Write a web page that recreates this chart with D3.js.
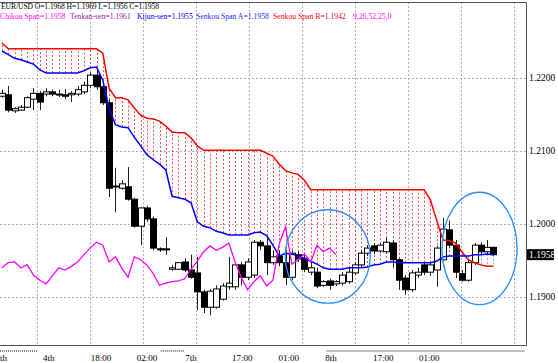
<!DOCTYPE html>
<html>
<head>
<meta charset="utf-8">
<script src="https://cdn.jsdelivr.net/npm/d3@7"></script>
<style>
  body { margin: 0; background: #fff; }
  svg { display: block; }
  text { font-family: "Liberation Serif", "DejaVu Serif", serif; }
</style>
</head>
<body>
<div id="chart"></div>
<script>
// H1 bars, index 0 = leftmost bar on screen
let opens = [1.2175,1.2177,1.2155,1.2156,1.2160,1.2171,1.2179,1.2178,1.2181,1.2178,
  1.2177,1.2177,1.2178,1.2181,1.2190,1.2204,1.2188,1.2166,1.2051,1.2049,
  1.2051,1.2034,1.1997,1.2022,1.2007,1.1966,1.1966,1.1938,1.1938,1.1948,
  1.1937,1.1933,1.1907,1.1886,1.1886,1.1897,1.1914,1.1914,1.1944,1.1927,
  1.1930,1.1975,1.1970,1.1947,1.1956,1.1947,1.1927,1.1958,1.1953,1.1934,
  1.1934,1.1916,1.1922,1.1918,1.1919,1.1921,1.1933,1.1944,1.1960,1.1970,
  1.1963,1.1962,1.1974,1.1951,1.1926,1.1910,1.1930,1.1944,1.1934,1.1937,
  1.1951,1.1992,1.1971,1.1932,1.1923,1.1947,1.1971,1.1962,1.1968]
let highs = [1.2184,1.2189,1.2160,1.2163,1.2175,1.2186,1.2182,1.2186,1.2184,1.2184,
  1.2185,1.2182,1.2189,1.2195,1.2208,1.2214,1.2190,1.2170,1.2077,1.2060,
  1.2078,1.2036,1.2023,1.2025,1.2010,1.1968,1.1982,1.1944,1.1948,1.1953,
  1.1958,1.1955,1.1910,1.1911,1.1916,1.1919,1.1955,1.1948,1.1948,1.1953,
  1.1978,1.1978,1.1982,1.1964,1.1964,1.1964,1.1964,1.1963,1.1958,1.1948,
  1.1940,1.1923,1.1925,1.1923,1.1934,1.1940,1.1948,1.1964,1.1971,1.1974,
  1.1974,1.1981,1.1978,1.1953,1.1930,1.1937,1.1940,1.1948,1.1948,1.1970,
  1.2008,1.2005,1.1978,1.1937,1.1951,1.1974,1.1975,1.1978,1.1969]
let lows = [1.2173,1.2153,1.2152,1.2155,1.2159,1.2156,1.2156,1.2175,1.2175,1.2174,
  1.2171,1.2167,1.2175,1.2178,1.2186,1.2184,1.2163,1.2037,1.2016,1.2047,
  1.2032,1.1995,1.1971,1.2003,1.1964,1.1962,1.1958,1.1936,1.1937,1.1934,
  1.1925,1.1882,1.1878,1.1875,1.1884,1.1895,1.1910,1.1910,1.1916,1.1923,
  1.1926,1.1964,1.1930,1.1944,1.1942,1.1916,1.1923,1.1948,1.1934,1.1930,
  1.1912,1.1914,1.1910,1.1915,1.1916,1.1918,1.1930,1.1941,1.1956,1.1959,
  1.1960,1.1959,1.1940,1.1910,1.1903,1.1907,1.1926,1.1930,1.1929,1.1914,
  1.1948,1.1967,1.1926,1.1921,1.1921,1.1944,1.1959,1.1959,1.1956]
let closes = [1.2179,1.2156,1.2158,1.2160,1.2173,1.2179,1.2167,1.2181,1.2178,1.2177,
  1.2175,1.2179,1.2184,1.2190,1.2204,1.2188,1.2166,1.2049,1.2052,1.2055,
  1.2034,1.1997,1.2022,1.2007,1.1967,1.1965,1.1966,1.1940,1.1947,1.1937,
  1.1927,1.1907,1.1886,1.1908,1.1911,1.1915,1.1919,1.1944,1.1927,1.1948,
  1.1975,1.1970,1.1947,1.1955,1.1947,1.1927,1.1960,1.1952,1.1938,1.1940,
  1.1915,1.1921,1.1916,1.1921,1.1930,1.1934,1.1944,1.1960,1.1967,1.1963,
  1.1971,1.1975,1.1951,1.1923,1.1910,1.1933,1.1934,1.1934,1.1944,1.1967,
  1.1993,1.1971,1.1934,1.1923,1.1947,1.1971,1.1962,1.1968,1.1958]

let senkouA = [1.2237,1.2232,1.2227,1.2225,1.2222,1.2219,1.2211,1.2207,1.2207,1.2207,
  1.2207,1.2207,1.2207,1.2210,1.2214,1.2215,1.2197,1.2159,1.2136,1.2133,
  1.2132,1.2119,1.2107,1.2095,1.2088,1.2082,1.2074,1.2038,1.2036,1.2034,
  1.2029,1.2003,1.1997,1.1995,1.1990,1.1988,1.1985,1.1985,1.1985,1.1985,
  1.1988,1.1989,1.1984,1.1971,1.1956,1.1960,1.1959,1.1956,1.1953,1.1949,
  1.1945,1.1940,1.1938,1.1938,1.1938,1.1940,1.1940,1.1940,1.1941,1.1944,
  1.1945,1.1948,1.1948,1.1947,1.1947,1.1947,1.1947,1.1947,1.1947,1.1949,
  1.1955,1.1956,1.1956,1.1956,1.1956,1.1958,1.1958,1.1959,1.1958]
let senkouB = [1.2248,1.2240,1.2240,1.2240,1.2240,1.2240,1.2240,1.2240,1.2240,1.2240,
  1.2240,1.2240,1.2240,1.2240,1.2240,1.2240,1.2234,1.2186,1.2173,1.2173,
  1.2170,1.2159,1.2149,1.2145,1.2144,1.2141,1.2134,1.2126,1.2125,1.2125,
  1.2118,1.2107,1.2101,1.2101,1.2101,1.2101,1.2101,1.2101,1.2101,1.2101,
  1.2101,1.2101,1.2097,1.2093,1.2082,1.2073,1.2070,1.2068,1.2060,1.2047,
  1.2047,1.2047,1.2047,1.2047,1.2047,1.2047,1.2047,1.2047,1.2047,1.2047,
  1.2047,1.2047,1.2047,1.2047,1.2047,1.2047,1.2047,1.2047,1.2033,1.2005,
  1.1978,1.1977,1.1974,1.1962,1.1951,1.1947,1.1944,1.1942,1.1942]
// chikou span, drawn from bar 0 to bar 53
let chikou = [1.1940,1.1947,1.1948,1.1940,1.1944,1.1930,1.1923,1.1918,1.1929,1.1940,
  1.1937,1.1942,1.1948,1.1958,1.1967,1.1975,1.1971,1.1948,1.1955,1.1940,
  1.1927,1.1955,1.1951,1.1944,1.1932,1.1916,1.1919,1.1921,1.1922,1.1925,
  1.1938,1.1949,1.1962,1.1970,1.1964,1.1968,1.1974,1.1948,1.1926,1.1910,
  1.1921,1.1929,1.1915,1.1923,1.1973,1.1996,1.1945,1.1951,1.1959,1.1948,
  1.1971,1.1962,1.1967,1.1958]

let priceTicks = [1.22, 1.21, 1.20, 1.19]
let timeLabels = ["th", "4th", "18:00", "02:00", "7th", "17:00", "01:00", "8th", "17:00", "01:00"]
let timeLabelBars = [-0.6, 6.5, 14.1, 21.4, 29.1, 36.5, 43.9, 51.3, 58.9, 66.2]
// hand drawn ellipses: [centre bar, centre price, half width in bars, half height in price]
let ellipses = [[51.7, 1.19555, 6.75, 0.0064], [75.8, 1.19665, 5.95, 0.0077]]

let headerLine1 = "EUR/USD O=1.1968 H=1.1969 L=1.1956 C=1.1958"
let headerLine2 = [
  ["Chikou Span=1.1958", "#ff00ff", 0],
  ["Tenkan-sen=1.1961", "#a020a0", 70],
  ["Kijun-sen=1.1955", "#0000ff", 137],
  ["Senkou Span A=1.1958", "#2030ff", 196],
  ["Senkou Span B=1.1942", "#ff0000", 273],
  ["9,26,52,25,0", "#ff00ff", 353]
]

let width = 558, height = 363
let plotRight = 526, plotTop = 2, plotBottom = 345

let svg = d3.select("#chart").append("svg")
  .attr("width", width)
  .attr("height", height)

let x = d3.scaleLinear().domain([0, 78]).range([2, 493.4])
let y = d3.scaleLinear().domain([1.19, 1.22]).range([297, 78])

let plot = svg.append("g")
let clip = svg.append("clipPath").attr("id", "clip")
clip.append("rect").attr("x", 0).attr("y", plotTop).attr("width", plotRight).attr("height", plotBottom - plotTop)
plot.attr("clip-path", "url(#clip)")

// grid
let gridColor = "#bfa6bf"
d3.range(37, plotRight, 53).forEach(function (gx) {
  plot.append("line")
    .attr("x1", gx + 0.5).attr("x2", gx + 0.5)
    .attr("y1", plotTop).attr("y2", plotBottom)
    .attr("stroke", gridColor).attr("stroke-dasharray", "2,2")
})
priceTicks.forEach(function (p) {
  plot.append("line")
    .attr("x1", 0).attr("x2", plotRight)
    .attr("y1", Math.round(y(p)) + 0.5).attr("y2", Math.round(y(p)) + 0.5)
    .attr("stroke", gridColor).attr("stroke-dasharray", "2,2")
})

// cloud hatch
let bars = d3.range(opens.length)
plot.selectAll(".hatch").data(bars).enter().append("line")
  .attr("x1", function (i) { return Math.round(x(i)) + 0.5 })
  .attr("x2", function (i) { return Math.round(x(i)) + 0.5 })
  .attr("y1", function (i) { return y(senkouA[i]) })
  .attr("y2", function (i) { return y(senkouB[i]) })
  .attr("stroke", function (i) { return senkouB[i] >= senkouA[i] ? "#ff2020" : "#6f8fff" })
  .attr("stroke-width", 1)
  .attr("stroke-dasharray", "2,2")
  .attr("opacity", 0.8)

let lineGen = d3.line()
  .x(function (d, i) { return x(i) })
  .y(function (d) { return y(d) })

// candles
let candles = plot.selectAll(".candle").data(bars).enter().append("g")
candles.append("line")
  .attr("x1", function (i) { return Math.round(x(i)) + 0.5 })
  .attr("x2", function (i) { return Math.round(x(i)) + 0.5 })
  .attr("y1", function (i) { return y(highs[i]) })
  .attr("y2", function (i) { return y(lows[i]) })
  .attr("stroke", "#222")
candles.append("rect")
  .attr("x", function (i) { return Math.round(x(i)) - 2.5 })
  .attr("y", function (i) { return y(Math.max(opens[i], closes[i])) })
  .attr("width", 6)
  .attr("height", function (i) { return Math.max(1, Math.abs(y(opens[i]) - y(closes[i]))) })
  .attr("fill", function (i) { return closes[i] >= opens[i] ? "#fff" : "#000" })
  .attr("stroke", "#000")
  .attr("stroke-width", 1)

plot.append("path").datum(senkouB)
  .attr("d", lineGen).attr("fill", "none")
  .attr("stroke", "#ff0000").attr("stroke-width", 1.5)
plot.append("path").datum(senkouA)
  .attr("d", lineGen).attr("fill", "none")
  .attr("stroke", "#0000ff").attr("stroke-width", 1.5)
plot.append("path").datum(chikou)
  .attr("d", lineGen).attr("fill", "none")
  .attr("stroke", "#ff00ff").attr("stroke-width", 1.3)

// annotation ellipses
plot.selectAll(".ring").data(ellipses).enter().append("ellipse")
  .attr("cx", function (d) { return x(d[0]) })
  .attr("cy", function (d) { return y(d[1]) })
  .attr("rx", function (d) { return x(d[2]) - x(0) })
  .attr("ry", function (d) { return y(1.19) - y(1.19 + d[3]) })
  .attr("fill", "none")
  .attr("stroke", "#2a8cff")
  .attr("stroke-width", 1.3)

// frame
svg.append("path")
  .attr("d", "M0," + (plotTop + 0.5) + "H" + (plotRight + 0.5) + "V" + (plotBottom + 0.5) + "H0")
  .attr("fill", "none").attr("stroke", "#555")

// right price axis
priceTicks.forEach(function (p) {
  svg.append("text")
    .attr("x", plotRight + 3).attr("y", y(p) + 3)
    .attr("font-size", 9.5).attr("fill", "#000")
    .text(p.toFixed(4))
})
let last = closes[closes.length - 1]
svg.append("rect")
  .attr("x", plotRight + 1).attr("y", y(last) - 5.5)
  .attr("width", 27).attr("height", 11).attr("fill", "#000")
svg.append("text")
  .attr("x", plotRight + 3).attr("y", y(last) + 3)
  .attr("font-size", 9.5).attr("fill", "#fff")
  .text(last.toFixed(4))

// bottom time axis
let sepBars = [[-1, 5.6], [25.2, 28.9], [51.5, 83]]
sepBars.forEach(function (s) {
  svg.append("line")
    .attr("x1", Math.max(0, x(s[0]))).attr("x2", Math.min(plotRight, x(s[1])))
    .attr("y1", 351).attr("y2", 351)
    .attr("stroke", "#888").attr("stroke-width", 2).attr("stroke-dasharray", "1,1")
})
timeLabels.forEach(function (t, k) {
  svg.append("text")
    .attr("x", Math.max(0, x(timeLabelBars[k])))
    .attr("y", 361)
    .attr("font-size", 9).attr("fill", "#000")
    .text(t)
})

// header
svg.append("text")
  .attr("x", 1).attr("y", 9)
  .attr("font-size", 7.6).attr("fill", "#000")
  .attr("textLength", 158).attr("lengthAdjust", "spacing")
  .text(headerLine1)
headerLine2.forEach(function (p) {
  svg.append("text")
    .attr("x", p[2]).attr("y", 19)
    .attr("font-size", 7.7).attr("fill", p[1])
    .text(p[0])
})
</script>
</body>
</html>
